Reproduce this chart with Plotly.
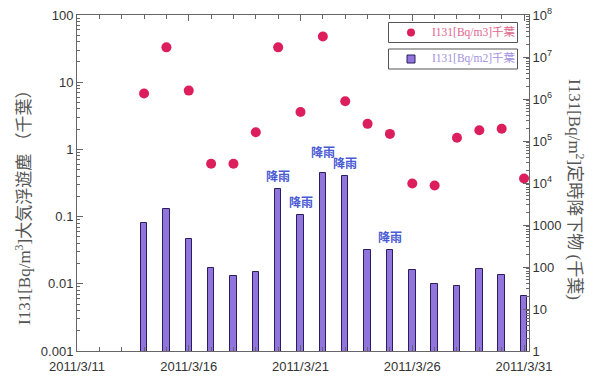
import plotly.graph_objects as go
import math

dates = ["2011-03-14", "2011-03-15", "2011-03-16", "2011-03-17", "2011-03-18",
         "2011-03-19", "2011-03-20", "2011-03-21", "2011-03-22", "2011-03-23",
         "2011-03-24", "2011-03-25", "2011-03-26", "2011-03-27", "2011-03-28",
         "2011-03-29", "2011-03-30", "2011-03-31"]
air_bq_m3 = [6.8, 33, 7.5, 0.61, 0.61, 1.8, 33, 3.6, 48, 5.2,
             2.4, 1.7, 0.31, 0.29, 1.49, 1.93, 2.03, 0.37]
fallout_bq_m2 = [1100, 2360, 464, 95, 60, 75, 7080, 1700, 17300, 14450,
                 250, 250, 83, 39, 35, 91, 63, 20]
rain_dates = ["2011-03-20", "2011-03-21", "2011-03-22", "2011-03-23", "2011-03-25"]
rain_label = "降雨"

x_tickvals = ["2011-03-11", "2011-03-16", "2011-03-21", "2011-03-26", "2011-03-31"]
x_ticktext = ["2011/3/11", "2011/3/16", "2011/3/21", "2011/3/26", "2011/3/31"]
left_tickvals = [0.001, 0.01, 0.1, 1, 10, 100]
left_ticktext = ["0.001", "0.01", "0.1", "1", "10", "100"]
right_tickvals = [1, 10, 100, 1000, 1e4, 1e5, 1e6, 1e7, 1e8]
right_ticktext = ["1", "10", "100", "1000", "10<sup>4</sup>", "10<sup>5</sup>",
                  "10<sup>6</sup>", "10<sup>7</sup>", "10<sup>8</sup>"]
left_title = "I131[Bq/m<sup>3</sup>]大気浮遊塵 （千葉）"
right_title = "I131[Bq/m<sup>2</sup>]定時降下物 (千葉)"
legend_air = "I131[Bq/m3]千葉"
legend_fall = "I131[Bq/m2]千葉"

AXC = "#666666"
TICKFONT = dict(family="Liberation Sans, Arial, sans-serif", size=13, color="#333333")

# page body has an 8px offset; plot area target: x 77..529, y 15..351
OFF = 8
L, T = 77 - OFF, 15 - OFF
R = 600 - (529 - OFF)
B = 376 - (351 - OFF)

fig = go.Figure()
fig.add_trace(go.Bar(
    x=dates, y=fallout_bq_m2, yaxis="y2", width=25000000,
    marker=dict(color="#9174dc", line=dict(color="#2a1f5e", width=1)),
    showlegend=False,
))
fig.add_trace(go.Scatter(
    x=dates, y=air_bq_m3, mode="markers",
    marker=dict(color="#dc1f5c", size=10),
    showlegend=False,
))

fallout_by_date = dict(zip(dates, fallout_bq_m2))
rain_shift = {"2011-03-22": 8}
for d in rain_dates:
    fig.add_annotation(
        x=d, y=math.log10(fallout_by_date[d]), xref="x", yref="y2",
        text="<b>" + rain_label + "</b>", showarrow=False,
        yanchor="bottom", yshift=3 + rain_shift.get(d, 0),
        font=dict(family="Noto Sans CJK JP", size=12, color="#4a5ad6"),
    )

W, H = 452.0, 336.0
def px(xp):
    return (xp - 77) / W
def py(yp):
    return (351 - yp) / H

# axis titles
fig.add_annotation(
    x=px(23), y=py(204), xref="paper", yref="paper", text=left_title,
    textangle=-90, showarrow=False, xanchor="center", yanchor="middle",
    font=dict(family="Liberation Serif, Noto Sans CJK JP", size=17, color="#555555"),
)
fig.add_annotation(
    x=px(576), y=py(189), xref="paper", yref="paper", text=right_title,
    textangle=90, showarrow=False, xanchor="center", yanchor="middle",
    font=dict(family="Liberation Serif, Noto Sans CJK JP", size=17, color="#555555"),
)

# legend boxes (two separate framed entries)
for (y0, y1, label, color, sym) in [
    (22.5, 42.5, legend_air, "#e0658c", "circle"),
    (49, 69, legend_fall, "#a292e0", "square"),
]:
    fig.add_shape(type="rect", xref="paper", yref="paper",
                  x0=px(388.5), x1=px(517.5), y0=py(y1), y1=py(y0),
                  line=dict(color="#555555", width=1), fillcolor="white", layer="above")
    cy = (y0 + y1) / 2
    if sym == "circle":
        fig.add_shape(type="circle", xref="paper", yref="paper",
                      x0=px(407), x1=px(415), y0=py(cy + 4), y1=py(cy - 4),
                      line=dict(color="#dc1f5c", width=0), fillcolor="#dc1f5c", layer="above")
    else:
        fig.add_shape(type="rect", xref="paper", yref="paper",
                      x0=px(407), x1=px(415), y0=py(cy + 4), y1=py(cy - 4),
                      line=dict(color="#2a1f5e", width=1), fillcolor="#9174dc", layer="above")
    fig.add_annotation(x=px(430), y=py(cy), xref="paper", yref="paper",
                       text=label, showarrow=False, xanchor="left", yanchor="middle",
                       font=dict(family="Liberation Serif, Noto Sans CJK JP", size=11.5, color=color))

common = dict(ticks="inside", ticklen=6, tickcolor=AXC, showline=True, linecolor=AXC,
              linewidth=1, showgrid=False, zeroline=False, tickfont=TICKFONT,
              automargin=False, ticklabeloverflow="allow")

fig.update_layout(
    width=600, height=376,
    margin=dict(l=L, r=R, t=T, b=B, autoexpand=False),
    paper_bgcolor="white", plot_bgcolor="white",
    bargap=0,
    xaxis=dict(
        type="date", range=["2011-03-11", "2011-03-31 05:20"],
        tickvals=x_tickvals, ticktext=x_ticktext, ticklabelstandoff=3,
        minor=dict(dtick=86400000, ticks="inside", ticklen=4, tickcolor=AXC, showgrid=False),
        mirror="ticks", **common,
    ),
    yaxis=dict(
        type="log", range=[-3, 2],
        tickvals=left_tickvals, ticktext=left_ticktext,
        minor=dict(dtick="D1", ticks="inside", ticklen=3, tickcolor=AXC, showgrid=False),
        **common,
    ),
    yaxis2=dict(
        type="log", range=[0, 8], overlaying="y", side="right",
        tickvals=right_tickvals, ticktext=right_ticktext,
        minor=dict(dtick="D1", ticks="inside", ticklen=3, tickcolor=AXC, showgrid=False),
        **common,
    ),
)

fig.write_html("out.html")
